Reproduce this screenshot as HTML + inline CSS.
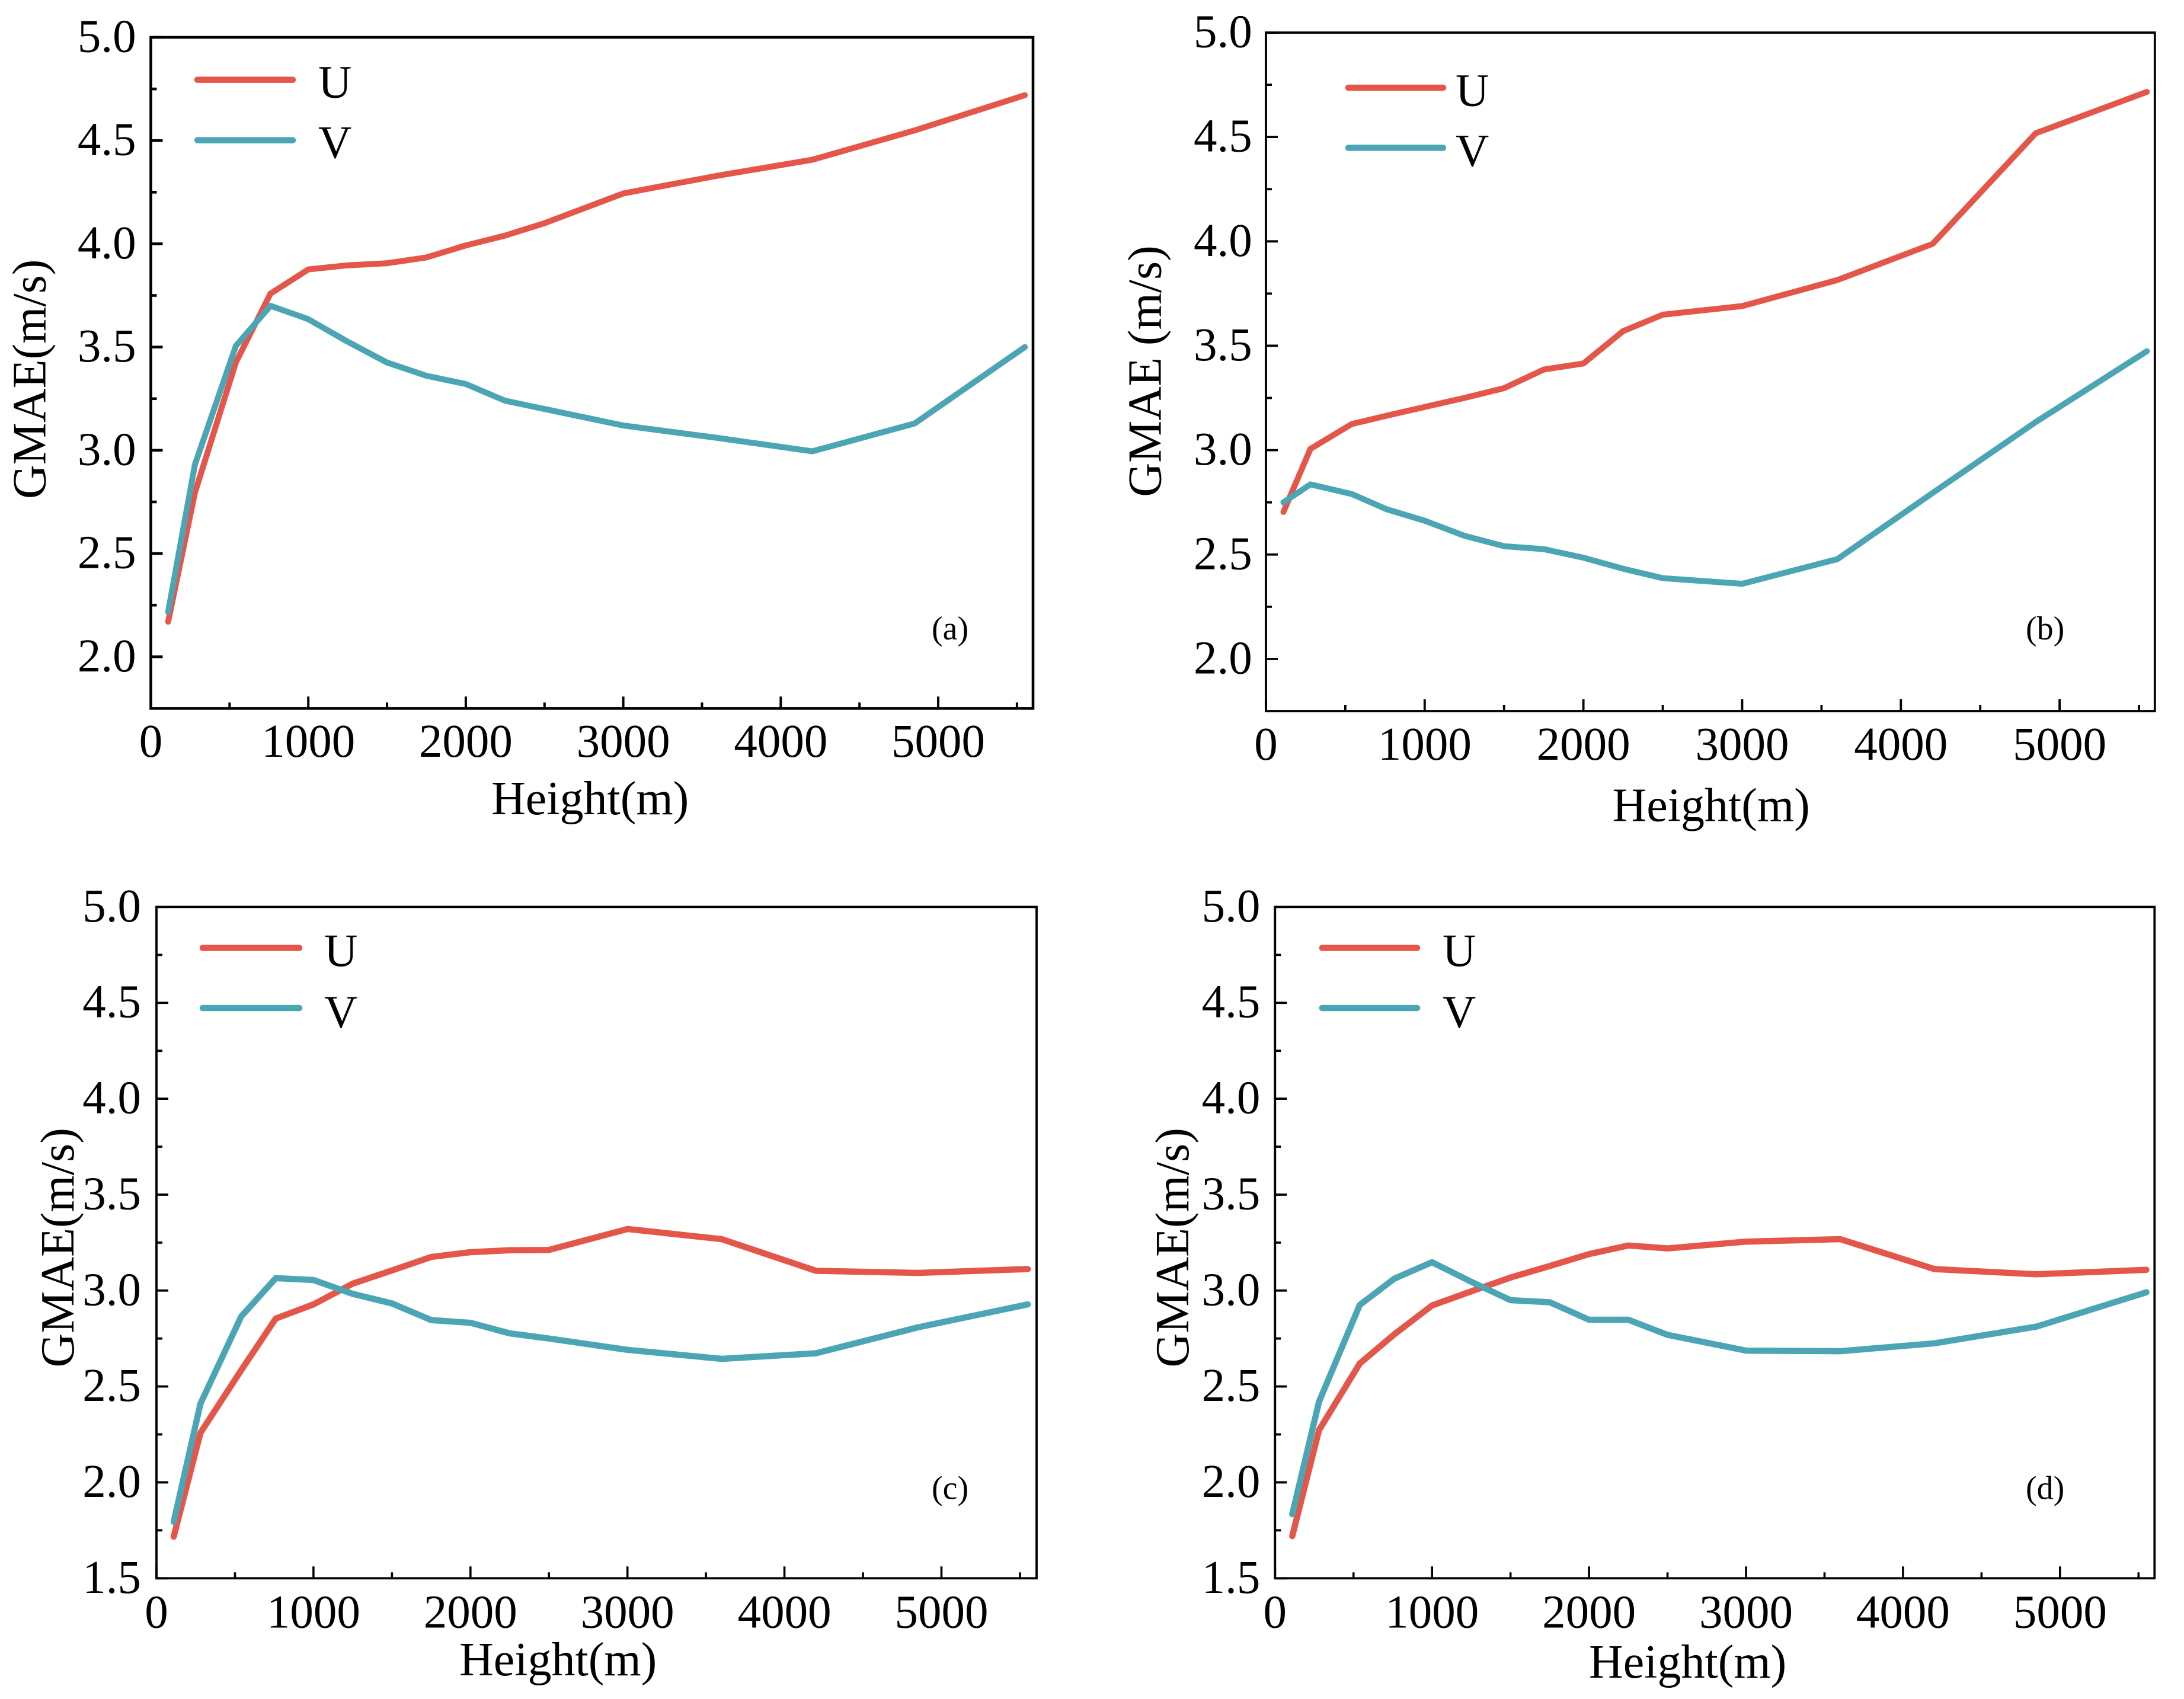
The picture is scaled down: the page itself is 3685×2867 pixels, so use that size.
<!DOCTYPE html>
<html lang="en">
<head>
<meta charset="utf-8">
<title>GMAE versus height</title>
<style>
html,body{margin:0;padding:0;background:#fff;}
svg{display:block;}
text{font-family:"Liberation Serif","Times New Roman",serif;fill:#000;}
</style>
</head>
<body>
<svg id="figure" xmlns="http://www.w3.org/2000/svg" width="3685" height="2867" viewBox="0 0 3685 2867">
<rect x="0" y="0" width="3685" height="2867" fill="#ffffff"/>
</svg>
<script>
// Shared heights (m) of every sample
const heights = [110, 280, 540, 760, 1000, 1250, 1500, 1750, 2000, 2250, 2500, 3000, 3600, 4200, 4850, 5550];

// Panel (a)
const uA = [2.17, 2.795, 3.426, 3.759, 3.876, 3.896, 3.906, 3.934, 3.992, 4.04, 4.10, 4.244, 4.33, 4.407, 4.549, 4.72];
const vA = [2.217, 2.931, 3.506, 3.7, 3.635, 3.526, 3.425, 3.361, 3.321, 3.24, 3.2, 3.12, 3.06, 2.995, 3.13, 3.5];
// Panel (b)
const uB = [2.704, 3.006, 3.125, 3.165, 3.207, 3.25, 3.297, 3.386, 3.415, 3.57, 3.649, 3.69, 3.815, 3.988, 4.518, 4.716];
const vB = [2.75, 2.836, 2.79, 2.717, 2.662, 2.59, 2.54, 2.526, 2.485, 2.432, 2.387, 2.36, 2.478, 2.795, 3.135, 3.474];
// Panel (c)
const uC = [1.717, 2.258, 2.585, 2.854, 2.928, 3.036, 3.105, 3.175, 3.2, 3.21, 3.212, 3.321, 3.268, 3.103, 3.092, 3.112];
const vC = [1.794, 2.41, 2.865, 3.065, 3.055, 2.983, 2.933, 2.846, 2.832, 2.777, 2.75, 2.691, 2.644, 2.673, 2.808, 2.928];
// Panel (d)
const uD = [1.72, 2.272, 2.62, 2.772, 2.922, 2.996, 3.068, 3.128, 3.19, 3.235, 3.22, 3.255, 3.268, 3.112, 3.085, 3.108];
const vD = [1.834, 2.42, 2.925, 3.062, 3.148, 3.046, 2.95, 2.939, 2.848, 2.848, 2.769, 2.687, 2.684, 2.725, 2.812, 2.991];

// Tick values and labels
const xMajorTicks = [0, 1000, 2000, 3000, 4000, 5000];
const xMinorTicks = [500, 1500, 2500, 3500, 4500, 5500];
const yMajorTicksUpper = ["2.0", "2.5", "3.0", "3.5", "4.0", "4.5", "5.0"];
const yMinorTicksUpper = [2.25, 2.75, 3.25, 3.75, 4.25, 4.75];
const yMajorTicksLower = ["1.5", "2.0", "2.5", "3.0", "3.5", "4.0", "4.5", "5.0"];
const yMinorTicksLower = [1.75, 2.25, 2.75, 3.25, 3.75, 4.25, 4.75];

const seriesNames = ["U", "V"];
const seriesColors = ["#E5564A", "#4BA5B4"];

const panels = [
  {id:"a", tag:"(a)", u:uA, v:vA, yMajor:yMajorTicksUpper, yMinor:yMinorTicksUpper, yMin:1.75, xMax:5602,
   left:254.5, right:1743, top:63, bottom:1195.4, frame:4.6, tick:4, line:10,
   yTitle:"GMAE(m/s)", yTitleX:76.5, yTitleY:842, xTitleX:829, xTitleY:1374, xTickY:1277, yTickR:229.6,
   legX1:330, legX2:497, legY:[134.6,236.6], legTextX:537, legTextY:[164.5,266.6], tagX:1572, tagY:1079},
  {id:"b", tag:"(b)", u:uB, v:vB, yMajor:yMajorTicksUpper, yMinor:yMinorTicksUpper, yMin:1.75, xMax:5600,
   left:2136, right:3635.8, top:55, bottom:1200, frame:3.8, tick:3.8, line:10,
   yTitle:"GMAE (m/s)", yTitleX:1958.4, yTitleY:838.6, xTitleX:2720.5, xTitleY:1385.7, xTickY:1282, yTickR:2112.8,
   legX1:2272, legX2:2438, legY:[148,249.4], legTextX:2456, legTextY:[178.6,280.6], tagX:3418, tagY:1079},
  {id:"c", tag:"(c)", u:uC, v:vC, yMajor:yMajorTicksLower, yMinor:yMinorTicksLower, yMin:1.5, xMax:5606,
   left:264, right:1749, top:1530.4, bottom:2663.3, frame:3.8, tick:3.6, line:10.5,
   yTitle:"GMAE(m/s)", yTitleX:124, yTitleY:2307.5, xTitleX:775, xTitleY:2827, xTickY:2746.7, yTickR:238,
   legX1:339, legX2:508, legY:[1599.5,1701], legTextX:547, legTextY:[1630,1734], tagX:1572, tagY:2529.7},
  {id:"d", tag:"(d)", u:uD, v:vD, yMajor:yMajorTicksLower, yMinor:yMinorTicksLower, yMin:1.5, xMax:5602,
   left:2151.3, right:3635.3, top:1530.4, bottom:2663.3, frame:3.8, tick:3.6, line:10.5,
   yTitle:"GMAE(m/s)", yTitleX:2005, yTitleY:2307.5, xTitleX:2681, xTitleY:2831, xTickY:2746.7, yTickR:2126.4,
   legX1:2228, legX2:2394, legY:[1599.5,1701], legTextX:2434, legTextY:[1630,1734], tagX:3418, tagY:2529.7}
];

const NS = "http://www.w3.org/2000/svg";
const svg = document.getElementById("figure");

function make(parent, tag, attrs, txt) {
  const node = document.createElementNS(NS, tag);
  for (const k in attrs) node.setAttribute(k, attrs[k]);
  if (txt !== undefined) node.textContent = txt;
  parent.appendChild(node);
  return node;
}

function drawPanel(p) {
  const xAxis = v => p.left + (v / p.xMax) * (p.right - p.left);
  const yAxis = v => p.bottom - ((v - p.yMin) / (5 - p.yMin)) * (p.bottom - p.top);

  const g = make(svg, "g", {});
  
  

  // Series
  [p.u, p.v].forEach((vals, i) => {
    const pts = vals.map((val, j) => xAxis(heights[j]).toFixed(1) + "," + yAxis(val).toFixed(1)).join(" ");
    const el = make(g, "polyline", {points: pts, fill: "none", stroke: seriesColors[i], "stroke-width": p.line, "stroke-linecap": "round", "stroke-linejoin": "round"});
    
    
  });

  // Frame
  const frame = make(g, "rect", {x: p.left, y: p.top, width: p.right - p.left, height: p.bottom - p.top, fill: "none", stroke: "#000", "stroke-width": p.frame});
  
  

  // X ticks
  xMajorTicks.forEach(v => {
    const t = make(g, "line", {x1: xAxis(v), x2: xAxis(v), y1: p.bottom, y2: p.bottom - 20, stroke: "#000", "stroke-width": p.tick});
    
    
    const l = make(g, "text", {x: xAxis(v), y: p.xTickY, "font-size": 79, "text-anchor": "middle"}, String(v));
    
    
  });
  xMinorTicks.forEach(v => {
    const t = make(g, "line", {x1: xAxis(v), x2: xAxis(v), y1: p.bottom, y2: p.bottom - 10, stroke: "#000", "stroke-width": p.tick});
    
    
  });

  // Y ticks
  p.yMajor.forEach(label => {
    const v = parseFloat(label);
    const t = make(g, "line", {x1: p.left, x2: p.left + 20, y1: yAxis(v), y2: yAxis(v), stroke: "#000", "stroke-width": p.frame});
    
    
    const l = make(g, "text", {x: p.yTickR, y: yAxis(v) + 24.5, "font-size": 79, "text-anchor": "end"}, label);
    
    
  });
  p.yMinor.forEach(v => {
    const t = make(g, "line", {x1: p.left, x2: p.left + 10, y1: yAxis(v), y2: yAxis(v), stroke: "#000", "stroke-width": p.frame});
    
    
  });

  // Axis titles
  const xt = make(g, "text", {x: p.xTitleX, y: p.xTitleY, "font-size": 80}, "Height(m)");
  
  
  const yt = make(g, "text", {x: p.yTitleX, y: p.yTitleY, "font-size": 80, transform: "rotate(-90 " + p.yTitleX + " " + p.yTitleY + ")"}, p.yTitle);
  
  

  // Legend
  seriesNames.forEach((name, i) => {
    const sw = make(g, "line", {x1: p.legX1 + 3, x2: p.legX2 - 3, y1: p.legY[i], y2: p.legY[i], stroke: seriesColors[i], "stroke-width": 10.5, "stroke-linecap": "round"});
    
    
    const tx = make(g, "text", {x: p.legTextX, y: p.legTextY[i], "font-size": 78}, name);
    
    
  });

  // Panel tag
  const tag = make(g, "text", {x: p.tagX, y: p.tagY, "font-size": 56}, p.tag);
  
  
}

panels.forEach(drawPanel);
</script>
</body>
</html>
